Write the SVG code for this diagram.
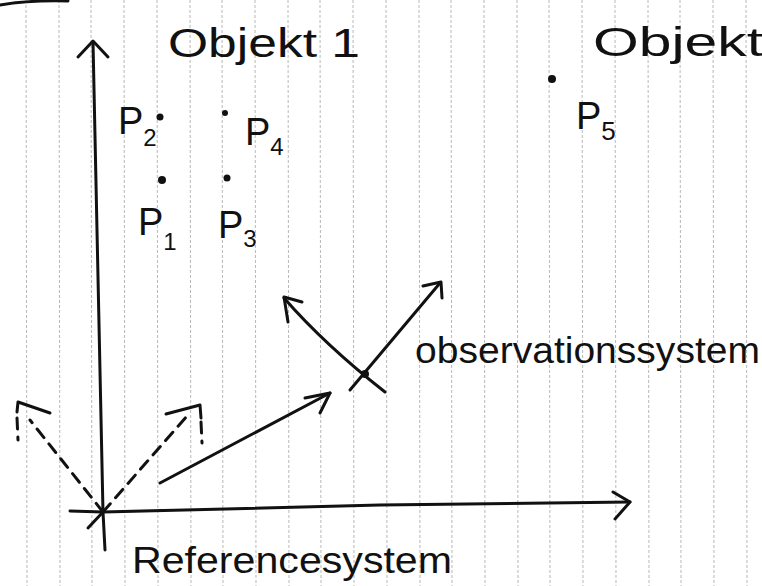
<svg xmlns="http://www.w3.org/2000/svg" width="762" height="586" viewBox="0 0 762 586">
<defs>
<style>
.grid{stroke:#b8b8b8;stroke-width:1;stroke-dasharray:3 2;fill:none}
.ink{stroke:#111;stroke-width:3;fill:none;stroke-linecap:round;stroke-linejoin:round}
.dash{stroke-dasharray:11 8}
.t{font-family:"Liberation Sans","DejaVu Sans",sans-serif;fill:#111}
.dot{fill:#111}
.sub{font-size:24px}
</style>
</defs>
<rect width="762" height="586" fill="#fff"/>
<g id="grid">
<line class="grid" x1="26" y1="0" x2="27" y2="586"/>
<line class="grid" x1="59" y1="0" x2="60" y2="586"/>
<line class="grid" x1="91" y1="0" x2="92" y2="586"/>
<line class="grid" x1="124" y1="0" x2="125" y2="586"/>
<line class="grid" x1="157" y1="0" x2="158" y2="586"/>
<line class="grid" x1="190" y1="0" x2="191" y2="586"/>
<line class="grid" x1="222" y1="0" x2="223" y2="586"/>
<line class="grid" x1="255" y1="0" x2="256" y2="586"/>
<line class="grid" x1="288" y1="0" x2="289" y2="586"/>
<line class="grid" x1="320" y1="0" x2="321" y2="586"/>
<line class="grid" x1="353" y1="0" x2="354" y2="586"/>
<line class="grid" x1="386" y1="0" x2="387" y2="586"/>
<line class="grid" x1="419" y1="0" x2="420" y2="586"/>
<line class="grid" x1="451" y1="0" x2="452" y2="586"/>
<line class="grid" x1="484" y1="0" x2="485" y2="586"/>
<line class="grid" x1="517" y1="0" x2="518" y2="586"/>
<line class="grid" x1="549" y1="0" x2="550" y2="586"/>
<line class="grid" x1="582" y1="0" x2="583" y2="586"/>
<line class="grid" x1="615" y1="0" x2="616" y2="586"/>
<line class="grid" x1="648" y1="0" x2="649" y2="586"/>
<line class="grid" x1="680" y1="0" x2="681" y2="586"/>
<line class="grid" x1="713" y1="0" x2="714" y2="586"/>
<line class="grid" x1="746" y1="0" x2="747" y2="586"/>
</g>
<path class="ink" d="M0 5 Q30 0 68 1"/>
<g id="connectors">
<g id="reference-axes">
<path class="ink" d="M105 550 L103 512 L93 42"/>
<path class="ink" d="M78 57 L93 41 L108 57"/>
<path class="ink" d="M70 511 L103 512 L380 505 L630 502"/>
<path class="ink" d="M613 492 L630 502 L615 519"/>
<path class="ink" d="M88 528 L103 512"/>
</g>
<g id="rotated-axes">
<path class="ink dash" d="M103 512 L187 416"/>
<path class="ink" d="M166 414 L200 405 L201 418"/>
<path class="ink dash" d="M201 422 L202 443"/>
<path class="ink dash" d="M103 512 L30 420"/>
<path class="ink" d="M50 413 L18 402 L17 412"/>
<path class="ink dash" d="M17 418 L18 440"/>
</g>
<g id="translation-vector">
<path class="ink" d="M160 483 L330 393"/>
<path class="ink" d="M305 398 L330 393 L320 413"/>
</g>
<g id="observation-axes">
<path class="ink" d="M284 298 Q325 345 385 392"/>
<path class="ink" d="M302 302 L284 297 L288 322"/>
<path class="ink" d="M350 390 L440 283"/>
<path class="ink" d="M423 286 L441 282 L442 298"/>
<circle class="dot" cx="365" cy="374" r="4"/>
</g>
</g>
<g id="objekt1">
<text class="t" x="168" y="57" font-size="40" textLength="192" lengthAdjust="spacingAndGlyphs">Objekt 1</text>
</g>
<g id="objekt2">
<text class="t" x="593" y="56" font-size="40" textLength="170" lengthAdjust="spacingAndGlyphs">Objekt</text>
</g>
<g id="p1"><circle class="dot" cx="162" cy="180" r="4"/><text class="t" x="138" y="235" font-size="38">P<tspan class="sub" dy="15">1</tspan></text></g>
<g id="p2"><circle class="dot" cx="160" cy="117" r="3.5"/><text class="t" x="118" y="134" font-size="38">P<tspan class="sub" dy="12">2</tspan></text></g>
<g id="p3"><circle class="dot" cx="227" cy="178" r="3.5"/><text class="t" x="218" y="238" font-size="38">P<tspan class="sub" dy="9">3</tspan></text></g>
<g id="p4"><circle class="dot" cx="225" cy="113" r="3"/><text class="t" x="245" y="145" font-size="38">P<tspan class="sub" dy="10">4</tspan></text></g>
<g id="p5"><circle class="dot" cx="552" cy="79" r="4"/><text class="t" x="576" y="129" font-size="38">P<tspan class="sub" dy="11" style="font-size:26px">5</tspan></text></g>
<g id="observationssystem">
<text class="t" x="415" y="363" font-size="36" textLength="345" lengthAdjust="spacingAndGlyphs">observationssystem</text>
</g>
<g id="referencesystem">
<text class="t" x="132" y="573" font-size="36" textLength="320" lengthAdjust="spacingAndGlyphs">Referencesystem</text>
</g>
</svg>
